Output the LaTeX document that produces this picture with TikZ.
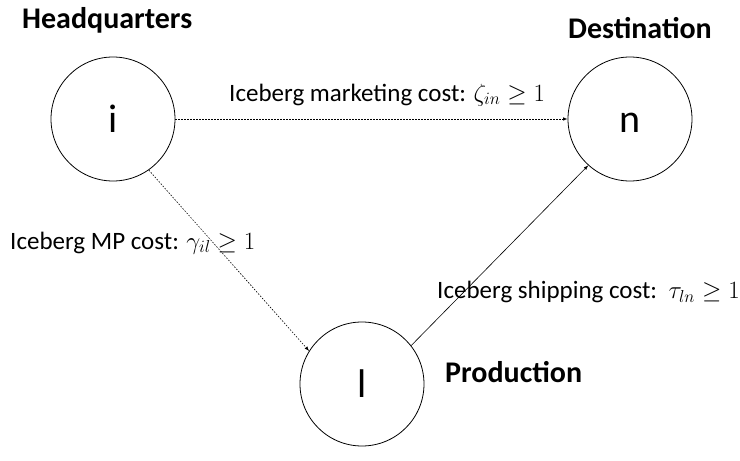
\documentclass[tikz,border=0pt]{standalone}
\usepackage{fontspec}
\setmainfont{Carlito}
\usetikzlibrary{arrows}
\tikzset{
  place/.style={circle,draw,thick,minimum size=124pt,inner sep=0pt,text height=28pt,text depth=0pt,font=\fontsize{40}{48}\selectfont},
  title/.style={inner sep=0pt,font=\fontsize{30}{36}\selectfont\bfseries},
  cost/.style={inner sep=0pt,font=\fontsize{25}{30}\selectfont},
  flow/.style={-latex,line width=0.6pt},
  dotflow/.style={-latex,line width=0.6pt,dash pattern=on 1.5pt off 1.5pt}
}
\begin{document}
\begin{tikzpicture}[x=1pt,y=1pt]
\useasboundingbox (0,0) rectangle (740,461);
% the three places
\node[place] (hq) at (113,342) {i};
\node[place] (dest) at (630,342) {n};
\node[place] (prod) at (362,77) {l};
% titles
\node[title,anchor=west] (hqname) at (22,441) {Headquarters};
\node[title,anchor=west] (destname) at (568,433) {Destination};
\node[title,anchor=west] (prodname) at (445,89) {Production};
% the costs
\draw[dotflow] (hq) -- (dest);
\draw[dotflow] (hq.-55) -- (prod.148);
\draw[flow] (prod.38) -- (dest.228);
\node[cost,anchor=west] (mkt) at (229,366) {Iceberg marketing cost: $\zeta_{in}\geq 1$};
\node[cost,anchor=west] (mp) at (10,218) {Iceberg MP cost: $\gamma_{il}\geq 1$};
\node[cost,anchor=west] (ship) at (437,169) {Iceberg shipping cost:\ \ $\tau_{ln}\geq 1$};
\end{tikzpicture}
\end{document}
